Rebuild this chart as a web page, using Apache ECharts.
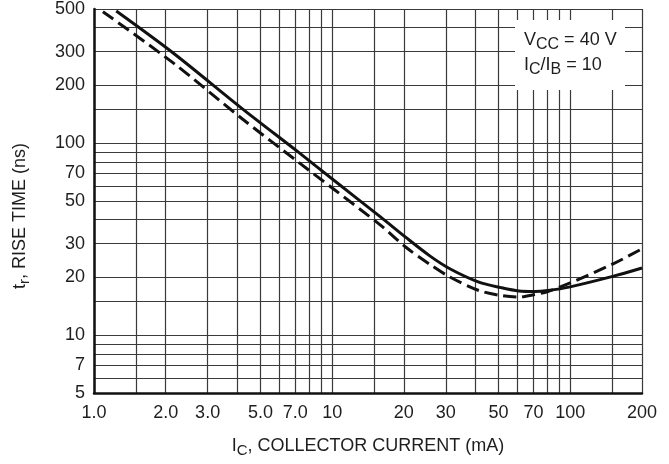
<!DOCTYPE html>
<html><head><meta charset="utf-8">
<script src="https://cdn.jsdelivr.net/npm/echarts@6/dist/echarts.min.js"></script>
<style>html,body{margin:0;padding:0;background:#fff}#c{width:669px;height:464px}</style>
</head><body><div id="c"></div>
<script>
const FONT = '"Liberation Sans","Arial",sans-serif';
// grid (graph paper) values
const xGridValues = [1,1.5,2,3,4,5,6,7,8,9,10,15,20,30,40,50,60,70,80,90,100,150,200];
const xLabelValues = [1,2,3,5,7,10,20,30,50,70,100,200];
const xLabelTexts = ['1.0','2.0','3.0','5.0','7.0','10','20','30','50','70','100','200'];
const yGridValues = [5,6,7,8,9,10,15,20,30,40,50,60,70,80,90,100,150,200,300,400,500];
const yLabelValues = [5,7,10,20,30,50,70,100,200,300,500];
const yLabelTexts = ['5','7','10','20','30','50','70','100','200','300','500'];
// curves: I_C (mA) -> t_r (ns)
const solidX = [1.24,2.15,4.2,7.26,10.2,16,20.4,25.7,31.2,41.3,51.1,60.8,71,80.5,98.7,152,200];
const solidY = [488,295,151,89.3,63.9,41.2,32.3,25.9,22.2,18.9,17.7,17.0,16.9,17.1,17.8,20.3,22.4];
const dashedX = [1.09,2.15,4.2,7.26,10.2,16,20.4,25.7,31.2,41.3,51.1,60.8,71,80.5,98.7,152,200];
const dashedY = [484,262,133.7,79.2,57.4,37.3,28.7,23.4,20.1,17.1,16.1,15.8,16.3,16.9,18.6,23.6,28.2];

function pick(vals, texts, v) {
  let best = 0, bd = Infinity;
  vals.forEach((u, i) => { const d = Math.abs(Math.log(u) - Math.log(v)); if (d < bd) { bd = d; best = i; } });
  return texts[best];
}
const TXT = '#1e1e1e';
const GRIDC = '#3a3a3a';
const rich = {
  m: { fontFamily: FONT, fontSize: 18, color: TXT },
  s: { fontFamily: FONT, fontSize: 15, color: TXT, padding: [9, 0, 0, 0] }
};
const chart = echarts.init(document.getElementById('c'), null, { renderer: 'canvas' });
chart.setOption({
  animation: false,
  backgroundColor: '#fff',
  grid: { left: 94, right: 27, top: 8, bottom: 71, containLabel: false },
  xAxis: {
    type: 'log', logBase: 10, min: 1, max: 200,
    name: '{m|I}{s|C}{m|, COLLECTOR CURRENT (mA)}',
    nameLocation: 'middle', nameGap: 41,
    nameTextStyle: { rich: rich },
    axisLine: { show: true, lineStyle: { color: '#111', width: 2.5 } },
    axisTick: { show: false, customValues: xGridValues },
    axisLabel: {
      customValues: xLabelValues, margin: 11,
      fontFamily: FONT, fontSize: 18, color: TXT,
      formatter: v => pick(xLabelValues, xLabelTexts, v)
    },
    splitLine: { show: true, lineStyle: { color: GRIDC, width: 1.2 } },
    minorTick: { show: false }, minorSplitLine: { show: false }
  },
  yAxis: {
    type: 'log', logBase: 10, min: 5, max: 500,
    name: '{m|t}{s|r}{m|, RISE TIME (ns)}',
    nameLocation: 'middle', nameGap: 62,
    nameTextStyle: { rich: rich, padding: [0, 30, 0, 0] },
    axisLine: { show: true, onZero: false, lineStyle: { color: '#111', width: 2.5 } },
    axisTick: { show: false, customValues: yGridValues },
    axisLabel: {
      customValues: yLabelValues, margin: 9,
      fontFamily: FONT, fontSize: 18, color: TXT,
      formatter: v => pick(yLabelValues, yLabelTexts, v)
    },
    splitLine: { show: true, lineStyle: { color: GRIDC, width: 1.2 } },
    minorTick: { show: false }, minorSplitLine: { show: false }
  },
  series: [
    {
      type: 'line', name: 'solid', smooth: 0.3, symbol: 'none',
      data: solidX.map((x, i) => [x, solidY[i]]),
      lineStyle: { color: '#111', width: 3 }, z: 5
    },
    {
      type: 'line', name: 'dashed', smooth: 0.3, symbol: 'none',
      data: dashedX.map((x, i) => [x, dashedY[i]]),
      lineStyle: { color: '#111', width: 3, type: [13, 6] }, z: 5
    }
  ],
  graphic: [
    { type: 'rect', left: 515, top: 20, z: 100, shape: { width: 110, height: 70 }, style: { fill: '#fff' } },
    { type: 'text', left: 524, top: 31, z: 101,
      style: {
        text: '{m|V}{s|CC}{m| = 40 V}\n{m|I}{s|C}{m|/I}{s|B}{m| = 10}',
        rich: {
          m: { fontFamily: FONT, fontSize: 18, fill: TXT, lineHeight: 25 },
          s: { fontFamily: FONT, fontSize: 16, fill: TXT, padding: [9, 0, 0, 0] }
        }
      }
    }
  ]
});
</script></body></html>
